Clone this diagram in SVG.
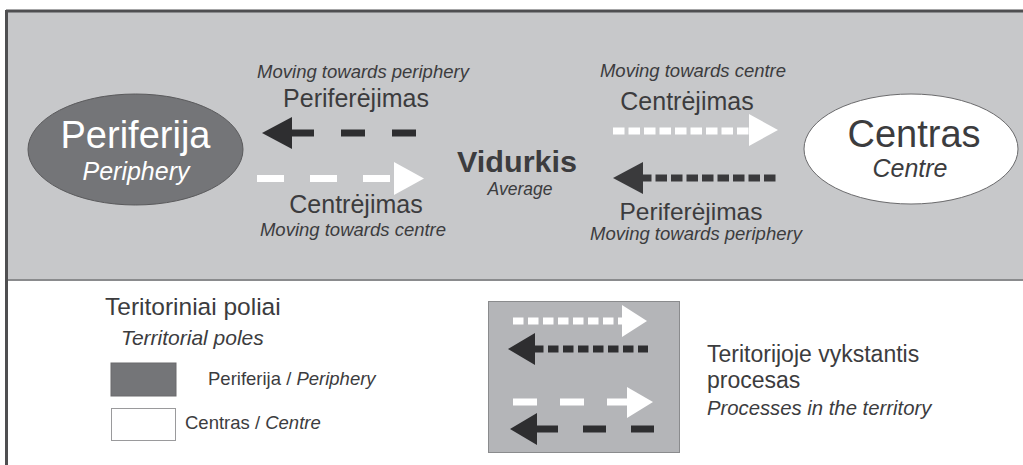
<svg xmlns="http://www.w3.org/2000/svg" width="1023" height="465" viewBox="0 0 1023 465">
<defs>
<style>
.t{font-family:"Liberation Sans",Arial,sans-serif;fill:#3c3c3e;}
.i{font-style:italic;}
.w{fill:#ffffff;}
.wd{stroke:#ffffff;stroke-width:7;fill:none;}
.bd{stroke:#2e2e30;stroke-width:7;fill:none;}
.bd2{stroke:#3a3a3c;stroke-width:7;fill:none;}
</style>
</defs>
<rect x="0" y="0" width="1023" height="465" fill="#ffffff"/>
<rect id="top-panel" x="7" y="11" width="1018" height="268" fill="#c7c8ca"/>
<line x1="6" y1="11" x2="1023" y2="11" stroke="#4f4f51" stroke-width="3"/>
<line x1="6.5" y1="10" x2="6.5" y2="465" stroke="#4f4f51" stroke-width="3"/>
<line x1="8" y1="280" x2="1023" y2="280" stroke="#8a8b8d" stroke-width="2"/>

<g id="periferija">
<ellipse cx="135.5" cy="149.5" rx="107.5" ry="55.5" fill="#747578" stroke="#5a5a5c" stroke-width="1"/>
<text class="t w" x="135.5" y="148" font-size="38" text-anchor="middle">Periferija</text>
<text class="t w i" x="136" y="180" font-size="25" text-anchor="middle">Periphery</text>
</g>

<g id="centras">
<ellipse cx="911" cy="149" rx="107" ry="55" fill="#ffffff" stroke="#6a6a6c" stroke-width="1"/>
<text class="t" x="914" y="147" font-size="38" text-anchor="middle">Centras</text>
<text class="t i" x="910" y="177" font-size="25" text-anchor="middle">Centre</text>
</g>

<g id="vidurkis">
<text class="t" x="517" y="172" font-size="29" font-weight="bold" text-anchor="middle" textLength="120" lengthAdjust="spacingAndGlyphs">Vidurkis</text>
<text class="t i" x="520" y="195" font-size="17.5" text-anchor="middle">Average</text>
</g>

<g id="connectors">
<line class="bd" x1="290" y1="133" x2="420" y2="133" stroke-dasharray="24 27"/>
<polygon points="262,133 292,117 292,149" fill="#2e2e30"/>
<line class="wd" x1="257" y1="178.5" x2="396" y2="178.5" stroke-dasharray="27 26"/>
<polygon points="424,178.5 394,162 394,195" fill="#ffffff"/>
<line class="wd" x1="613" y1="131" x2="752" y2="131" stroke-dasharray="11.5 4"/>
<polygon points="778,130 749,114 749,146" fill="#ffffff"/>
<line class="bd2" x1="640" y1="178" x2="778" y2="178" stroke-dasharray="11.5 4"/>
<polygon points="613,178 643,162 643,194" fill="#3a3a3c"/>
</g>

<g id="labels">
<text class="t i" x="363" y="78" font-size="18.5" text-anchor="middle">Moving towards periphery</text>
<text class="t" x="356" y="107" font-size="25" text-anchor="middle">Periferėjimas</text>
<text class="t" x="356" y="213" font-size="25" text-anchor="middle">Centrėjimas</text>
<text class="t i" x="353" y="236" font-size="18.5" text-anchor="middle">Moving towards centre</text>
<text class="t i" x="693" y="77" font-size="18.5" text-anchor="middle">Moving towards centre</text>
<text class="t" x="687" y="110" font-size="25" text-anchor="middle">Centrėjimas</text>
<text class="t" x="691" y="220" font-size="24.5" text-anchor="middle">Periferėjimas</text>
<text class="t i" x="696" y="240" font-size="18.5" text-anchor="middle">Moving towards periphery</text>
</g>

<g id="legend-poles">
<text class="t" x="105" y="315" font-size="24.5">Teritoriniai poliai</text>
<text class="t i" x="121" y="345" font-size="21">Territorial poles</text>
<rect x="111" y="363" width="65" height="33" fill="#747578" stroke="#6a6a6c" stroke-width="1"/>
<text class="t" x="208" y="385" font-size="18.5">Periferija / <tspan class="i">Periphery</tspan></text>
<rect x="111.5" y="408.5" width="64" height="32" fill="#ffffff" stroke="#9a9a9c" stroke-width="1"/>
<text class="t" x="185" y="429" font-size="18.5">Centras / <tspan class="i">Centre</tspan></text>
</g>

<g id="legend-process">
<rect x="488.5" y="301.5" width="191" height="151" fill="#b4b5b8" stroke="#8a8b8d" stroke-width="1"/>
<line class="wd" x1="513" y1="321" x2="624" y2="321" stroke-dasharray="10.5 4.5"/>
<polygon points="647,321 622,305 622,337" fill="#ffffff"/>
<line class="bd" x1="533" y1="349" x2="648" y2="349" stroke-dasharray="10.5 4.5"/>
<polygon points="508,349 535,333 535,365" fill="#2e2e30"/>
<line class="wd" x1="513" y1="402" x2="629" y2="402" stroke-dasharray="24 23"/>
<polygon points="653,402 627,387 627,418" fill="#ffffff"/>
<line class="bd" x1="535" y1="429" x2="655" y2="429" stroke-dasharray="23 25"/>
<polygon points="510,429 537,413 537,445" fill="#2e2e30"/>
<text class="t" x="707" y="362" font-size="23">Teritorijoje vykstantis</text>
<text class="t" x="707" y="388" font-size="23">procesas</text>
<text class="t i" x="707" y="415" font-size="20.3">Processes in the territory</text>
</g>
</svg>
